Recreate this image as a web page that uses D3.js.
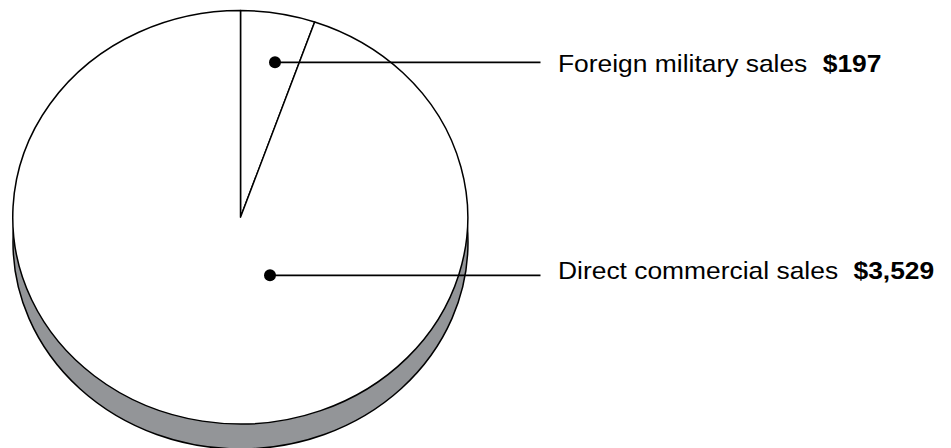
<!DOCTYPE html>
<html>
<head>
<meta charset="utf-8">
<script src="https://cdn.jsdelivr.net/npm/d3@7"></script>
<style>
  body { margin: 0; background: #fff; }
  text { font-family: "Liberation Sans", Arial, sans-serif; }
</style>
</head>
<body>
<div id="chart"></div>
<script>
// data
var categories = ["Foreign military sales", "Direct commercial sales"];
var values = [197, 3529];
var valueLabels = ["$197", "$3,529"];

var svgWidth = 951;
var svgHeight = 448;

// pie geometry (picture is stretched a bit horizontally)
var cx = 240.5, cy = 217.3;
var rx = 227.5, ry = 206.7;
var depth = 25;
var stretch = 1.1;

// where the leader dots sit, relative to pie centre, and the label column
var dotOffsets = [[34.5, -155], [29.5, 58]];
var baselineShift = [9.3, 3.6];
var lineEndX = 540.5;
var textX = 558;

var svg = d3.select("#chart")
  .append("svg")
  .attr("width", svgWidth)
  .attr("height", svgHeight);

// side of the disc
svg.append("ellipse")
  .attr("cx", cx)
  .attr("cy", cy + depth)
  .attr("rx", rx)
  .attr("ry", ry)
  .attr("fill", "#939598")
  .attr("stroke", "#000")
  .attr("stroke-width", 1.5);

var pie = d3.pie().sort(null).value(d => d);
var arc = d3.arc().innerRadius(0).outerRadius(1);

var pieTop = svg.append("g")
  .attr("transform", `translate(${cx},${cy}) scale(${rx},${ry})`);

pieTop.selectAll("path")
  .data(pie(values))
  .enter()
  .append("path")
  .attr("d", arc)
  .attr("fill", "#fff")
  .attr("stroke", "#000")
  .attr("stroke-width", 1.5)
  .attr("stroke-linejoin", "round")
  .attr("vector-effect", "non-scaling-stroke");

var labels = svg.append("g");

categories.forEach(function(name, i) {
  var dx = cx + dotOffsets[i][0];
  var dy = cy + dotOffsets[i][1];

  labels.append("line")
    .attr("x1", dx)
    .attr("y1", dy)
    .attr("x2", lineEndX)
    .attr("y2", dy)
    .attr("stroke", "#000")
    .attr("stroke-width", 1.7);

  labels.append("circle")
    .attr("cx", dx)
    .attr("cy", dy)
    .attr("r", 6)
    .attr("fill", "#000");

  var t = labels.append("text")
    .attr("transform", `translate(${textX},${dy + baselineShift[i]}) scale(${stretch},1)`)
    .attr("font-size", 24)
    .attr("fill", "#000");

  t.append("tspan").text(name);
  t.append("tspan")
    .attr("dx", 14)
    .attr("font-weight", "bold")
    .text(valueLabels[i]);
});
</script>
</body>
</html>
